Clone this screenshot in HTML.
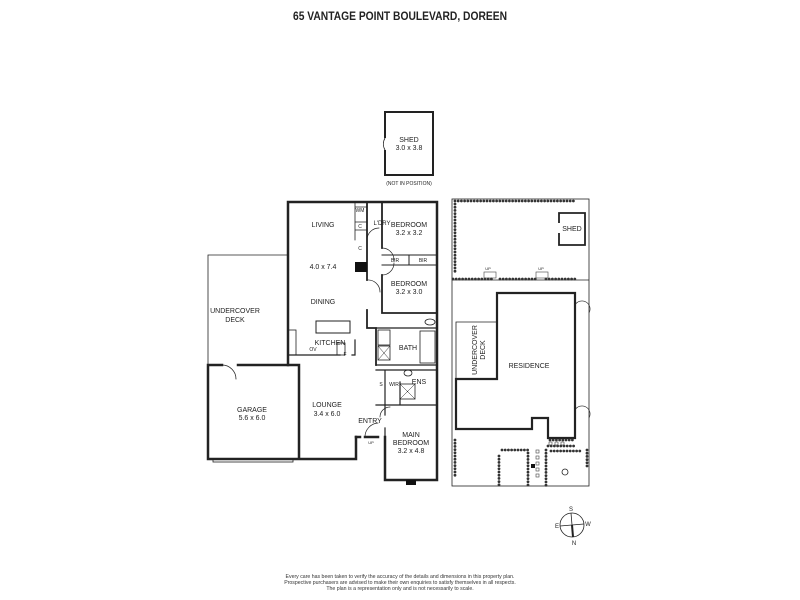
<!DOCTYPE html>
<html><head><style>html,body{margin:0;padding:0;background:#fff}svg{display:block}</style></head>
<body>
<svg width="800" height="600" viewBox="0 0 800 600" xmlns="http://www.w3.org/2000/svg" font-family="Liberation Sans, sans-serif">
<rect width="800" height="600" fill="#fff"/>
<text x="400" y="20" text-anchor="middle" font-size="12" font-weight="bold" fill="#222" textLength="214" lengthAdjust="spacingAndGlyphs">65 VANTAGE POINT BOULEVARD, DOREEN</text>

<g stroke="#222" fill="none">
<path d="M385 138 V112 H433 V175 H385 V150" stroke-width="2"/>
<path d="M385 138 A12 12 0 0 0 385 150" stroke-width="0.8"/>
</g>
<g font-size="7" fill="#222" text-anchor="middle">
<text x="409" y="142">SHED</text><text x="409" y="150">3.0 x 3.8</text>
<text x="409" y="185" font-size="5">(NOT IN POSITION)</text>
</g>

<g stroke="#222" fill="none" stroke-linecap="square">
<path d="M288 255 H208 V365" stroke-width="0.8"/>
<path d="M288 365 V202 H437 V480 H385 V437 M378 437 H365 V437" stroke-width="2.5"/>
<path d="M356 437 V459 H299 V365 H288 M298 459 H208 V365 H222 M238 365 H298" stroke-width="2.5"/>
<path d="M356 437 H360" stroke-width="2.5"/>
<rect x="213" y="459" width="80" height="3" stroke-width="0.8"/>
<path d="M222 365 A14 14 0 0 1 236 379" stroke-width="0.8"/>
<path d="M367 202 V280 M367 310 V328 H376 V365 M382 202 V248 M382 275 V313 H437" stroke-width="1.8"/>
<path d="M382 255 H437 M382 265 H437 M409 255 V265" stroke-width="1"/>
<path d="M376 328 H437 M376 365 H437 M376 370 H437 M385 370 V405 M400 382 V405 H437 M376 405 H400 M385 405 V415 M385 428 V437" stroke-width="1.2"/>
<path d="M288 355 H340 M352 355 H355 V340" stroke-width="1.2"/>
<rect x="316" y="321" width="34" height="12" stroke-width="1"/>
<rect x="337" y="343" width="8" height="12" stroke-width="0.8"/>
<rect x="288" y="330" width="8" height="25" stroke-width="0.8"/>
<rect x="378" y="330" width="12" height="15" stroke-width="0.8"/>
<rect x="378" y="346" width="12" height="14" stroke-width="0.8"/>
<path d="M378 346 L390 360 M390 346 L378 360" stroke-width="0.5"/>
<rect x="400" y="384" width="15" height="15" stroke-width="0.8"/>
<path d="M400 384 L415 399 M415 384 L400 399" stroke-width="0.5"/>
<rect x="420" y="331" width="15" height="32" stroke-width="0.8"/>
<ellipse cx="430" cy="322" rx="5" ry="3" stroke-width="0.8"/>
<ellipse cx="408" cy="373" rx="4" ry="3" stroke-width="0.8"/>
<path d="M367 240 A12 12 0 0 1 379 228 M382 248 A12 12 0 0 1 394 260 M382 275 A12 12 0 0 0 394 263 M367 280 A12 12 0 0 1 380 292" stroke-width="0.7"/>
<path d="M380 417 A10 10 0 0 1 390 407" stroke-width="0.7"/>
<path d="M365 437 A14 14 0 0 1 378 423" stroke-width="0.7"/>
<path d="M355 207 H367 M355 202 V240 M355 222 H367 M355 230 H367" stroke-width="0.8"/>
</g>
<rect x="355" y="262" width="12" height="10" fill="#111"/>
<rect x="406" y="480" width="10" height="5" fill="#111"/>
<g font-size="7" fill="#222" text-anchor="middle">
<text x="323" y="227">LIVING</text>
<text x="323" y="269">4.0 x 7.4</text>
<text x="323" y="304">DINING</text>
<text x="330" y="345">KITCHEN</text>
<text x="235" y="313">UNDERCOVER</text><text x="235" y="322">DECK</text>
<text x="252" y="412">GARAGE</text><text x="252" y="420">5.6 x 6.0</text>
<text x="327" y="407">LOUNGE</text><text x="327" y="416">3.4 x 6.0</text>
<text x="409" y="227">BEDROOM</text><text x="409" y="235">3.2 x 3.2</text>
<text x="409" y="286">BEDROOM</text><text x="409" y="294">3.2 x 3.0</text>
<text x="408" y="350">BATH</text>
<text x="419" y="384">ENS</text>
<text x="394" y="386" font-size="5">WIR</text>
<text x="381" y="386" font-size="5">S</text>
<text x="370" y="423">ENTRY</text>
<text x="411" y="437">MAIN</text><text x="411" y="445">BEDROOM</text><text x="411" y="453">3.2 x 4.8</text>
<text x="395" y="262" font-size="5">BIR</text><text x="423" y="262" font-size="5">BIR</text>
<text x="382" y="225" font-size="6">L'DRY</text>
<text x="360" y="212" font-size="5">WM</text>
<text x="360" y="228" font-size="5">C</text>
<text x="360" y="250" font-size="5">C</text>
<text x="345" y="356" font-size="5">F</text>
<text x="313" y="351" font-size="5">OV</text>
<text x="371" y="444" font-size="4">UP</text>
</g>

<g stroke="#222" fill="none">
<rect x="452" y="199" width="137" height="287" stroke-width="0.8"/>
<path d="M452 280 H589" stroke-width="0.8"/>
<path d="M497 293 H575 V438 H548 V418 H532 V429 H456 V379 H497 Z" stroke-width="2.2"/>
<path d="M456 379 V322 H497" stroke-width="0.8"/>
<path d="M559 223 V213 H585 V245 H559 V233" stroke-width="1.8"/>
<path d="M575 305 A8 8 0 0 1 589 313 M575 410 A8 8 0 0 1 589 418" stroke-width="0.6"/>
<rect x="531" y="464" width="4" height="4" fill="#111" stroke="none"/>
<circle cx="565" cy="472" r="3" stroke-width="0.8"/>
</g>
<g stroke="#333" stroke-width="2.8" stroke-dasharray="0 3.2" stroke-linecap="round" fill="none">
<path d="M455 201 H575"/>
<path d="M455 204 V272"/>
<path d="M453 279 H492 M500 279 H538 M546 279 H577"/>
<path d="M455 440 V477"/>
<path d="M499 456 V486 M502 450 H528 M528 453 V486 M548 446 H574 M546 450 V486 M587 450 V468 M551 451 H583"/>
<path d="M550 440 H575"/>
</g>
<g fill="none" stroke="#444" stroke-width="0.6">
<rect x="536" y="450" width="3" height="3"/><rect x="536" y="456" width="3" height="3"/><rect x="536" y="462" width="3" height="3"/><rect x="536" y="468" width="3" height="3"/><rect x="536" y="474" width="3" height="3"/>
<rect x="549" y="442" width="3" height="3"/><rect x="555" y="442" width="3" height="3"/><rect x="561" y="442" width="3" height="3"/>
<rect x="484" y="272" width="12" height="6"/><rect x="536" y="272" width="12" height="6"/>
</g>
<g font-size="7" fill="#222" text-anchor="middle">
<text x="529" y="368">RESIDENCE</text>
<text x="572" y="231">SHED</text>
<text x="488" y="270" font-size="4">UP</text><text x="541" y="270" font-size="4">UP</text>
<g transform="translate(477,350) rotate(-90)"><text x="0" y="0">UNDERCOVER</text><text x="0" y="8">DECK</text></g>
</g>

<g stroke="#222" fill="none">
<circle cx="572" cy="525" r="12" stroke-width="0.8"/>
<path d="M571 513 L573 537 M560 526 L584 524" stroke-width="0.8"/>
<path d="M572 525 L573 537" stroke-width="2"/>
</g>
<g font-size="6" fill="#222" text-anchor="middle">
<text x="571" y="511">S</text><text x="557" y="528">E</text><text x="588" y="526">W</text><text x="574" y="545">N</text>
</g>

<g font-size="5.2" fill="#333" text-anchor="middle">
<text x="400" y="578">Every care has been taken to verify the accuracy of the details and dimensions in this property plan.</text>
<text x="400" y="584">Prospective purchasers are advised to make their own enquiries to satisfy themselves in all respects.</text>
<text x="400" y="590">The plan is a representation only and is not necessarily to scale.</text>
</g>
</svg>
</body></html>
